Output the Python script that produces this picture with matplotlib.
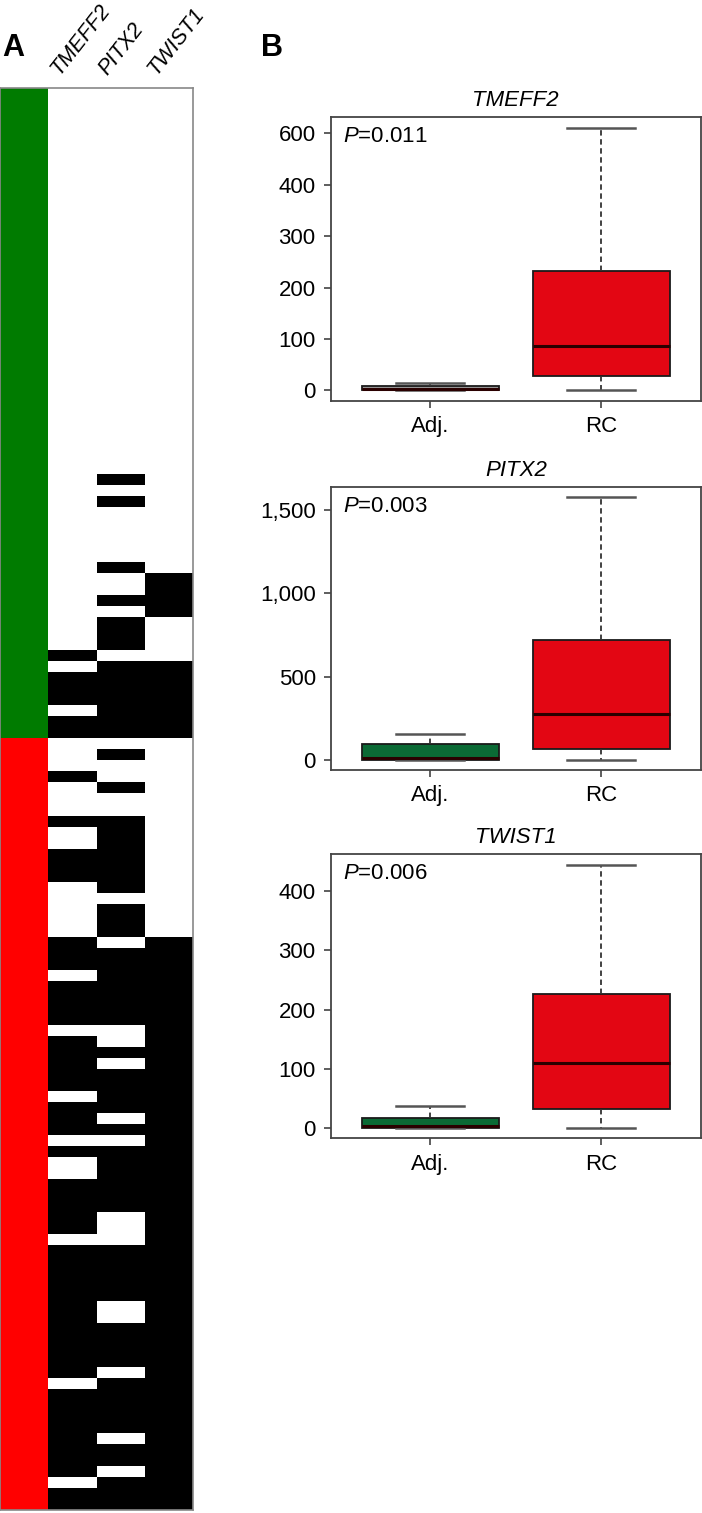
import numpy as np
import matplotlib
matplotlib.use("Agg")
import matplotlib.pyplot as plt
from matplotlib.colors import ListedColormap
from matplotlib.ticker import FuncFormatter
from matplotlib.transforms import offset_copy

plt.rcParams['font.family'] = ['Liberation Sans', 'DejaVu Sans']
plt.rcParams['mathtext.fontset'] = 'custom'
plt.rcParams['mathtext.it'] = 'Liberation Sans:italic'
plt.rcParams['mathtext.rm'] = 'Liberation Sans'

W, H = 702, 1513

# --- panel A: methylation status per sample (rows), black = methylated
n_adj = 59
n_rc = 70
genes = ["TMEFF2", "PITX2", "TWIST1"]
tmeff2_runs = [(51, 52), (53, 56), (57, 59), (62, 63), (66, 67), (69, 72), (77, 80),
               (81, 85), (86, 91), (92, 95), (96, 97), (99, 104), (105, 117),
               (118, 126), (127, 129)]
pitx2_runs = [(35, 36), (37, 38), (43, 44), (46, 47), (48, 51), (52, 59), (60, 61),
              (63, 64), (66, 73), (74, 77), (78, 85), (87, 88), (89, 93), (94, 95),
              (96, 102), (105, 110), (112, 116), (117, 122), (123, 125), (126, 129)]
twist1_runs = [(44, 48), (52, 59), (77, 129)]

# --- panel B: box plot summaries (whislo, q1, med, q3, whishi)
groups = ["Adj.", "RC"]
p_values = ["0.011", "0.003", "0.006"]
adj_stats = [[0, 0, 2, 8, 15], [0, 0, 8, 93, 156], [0, 0, 3, 17, 37]]
rc_stats = [[0, 28, 87, 233, 623], [0, 64, 276, 720, 1580], [0, 32, 109, 227, 445]]
y_ticks = [[0, 100, 200, 300, 400, 600], [0, 500, 1000, 1500], [0, 100, 200, 300, 400]]
y_lims = [(-20.5, 664), (-63, 1643), (-17.8, 463)]

adj_colors = ['#9a9a9a', '#0b6a35', '#0b6a35']
rc_color = '#e30613'

fig = plt.figure(figsize=(W / 100, H / 100), dpi=100)


def px_axes(l, t, r, b):
    return fig.add_axes([l / W, 1 - b / H, (r - l) / W, (b - t) / H])


# heatmap
n = n_adj + n_rc
mat = np.zeros((n, 4), dtype=int)
mat[:n_adj, 0] = 2
mat[n_adj:, 0] = 3
for j, runs in enumerate([tmeff2_runs, pitx2_runs, twist1_runs], start=1):
    for a, b in runs:
        mat[a:b, j] = 1

axh = px_axes(0, 88, 193, 1510)
cmap = ListedColormap(['white', 'black', '#007b00', '#ff0000'])
axh.pcolormesh(np.arange(5), np.arange(n + 1), mat, cmap=cmap, vmin=-0.5, vmax=3.5)
axh.set_xlim(0, 4)
axh.set_ylim(n, 0)
axh.set_xticks([])
axh.set_yticks([])
for s in axh.spines.values():
    s.set_color('#888888')
    s.set_linewidth(1.2)

trans = offset_copy(axh.transData, fig=fig, x=-9, y=9, units='dots')
for j, g in enumerate(genes, start=1):
    axh.text(j + 0.5, 0, g, transform=trans, rotation=52, rotation_mode='anchor',
             ha='left', va='bottom', fontsize=15.5, style='italic')

fig.text(13 / W, 1 - 48 / H, 'A', fontsize=22, weight='bold', ha='center', va='center')
fig.text(272 / W, 1 - 48 / H, 'B', fontsize=22, weight='bold', ha='center', va='center')


# box plots
def fwd(y):
    y = np.asarray(y, dtype=float)
    return np.where(y <= 400, y, 400 + (y - 400) / 2)


def inv(t):
    t = np.asarray(t, dtype=float)
    return np.where(t <= 400, t, 400 + (t - 400) * 2)


panel_px = [(331, 117, 700.5, 401), (331, 486.7, 700.5, 770), (331, 854, 700.5, 1138.3)]
for i, g in enumerate(genes):
    ax = px_axes(*panel_px[i])
    if i == 0:
        ax.set_yscale('function', functions=(fwd, inv))
    stats = []
    for vals, lab in zip([adj_stats[i], rc_stats[i]], groups):
        stats.append(dict(whislo=vals[0], q1=vals[1], med=vals[2], q3=vals[3],
                          whishi=vals[4], label=lab))
    bp = ax.bxp(stats, positions=[1, 2], widths=0.8, capwidths=0.4, patch_artist=True,
                showfliers=False,
                boxprops=dict(edgecolor='#1a1a1a', linewidth=1.3),
                whiskerprops=dict(color='#333333', linestyle=(0, (3, 2)), linewidth=1.3),
                capprops=dict(color='#555555', linewidth=1.8),
                medianprops=dict(color='#2a0000', linewidth=2.2))
    bp['boxes'][0].set_facecolor(adj_colors[i])
    bp['boxes'][1].set_facecolor(rc_color)
    ax.set_xlim(0.42, 2.58)
    ax.set_ylim(*y_lims[i])
    ax.set_yticks(y_ticks[i])
    ax.yaxis.set_major_formatter(FuncFormatter(lambda v, p: f"{v:,.0f}"))
    ax.yaxis.set_minor_locator(plt.NullLocator())
    ax.set_xticks([1, 2])
    ax.set_xticklabels(groups)
    ax.tick_params(axis='both', labelsize=16, length=5, width=1.1, color='#333333')
    ax.tick_params(axis='y', pad=6)
    ax.tick_params(axis='x', pad=6)
    for s in ax.spines.values():
        s.set_color('#444444')
        s.set_linewidth(1.3)
    ax.set_title(g, style='italic', fontsize=16, pad=8)
    ax.text(0.032, 0.93, r'$P$=' + p_values[i], transform=ax.transAxes,
            fontsize=16, ha='left', va='center')

fig.savefig("out.png", dpi=100)
